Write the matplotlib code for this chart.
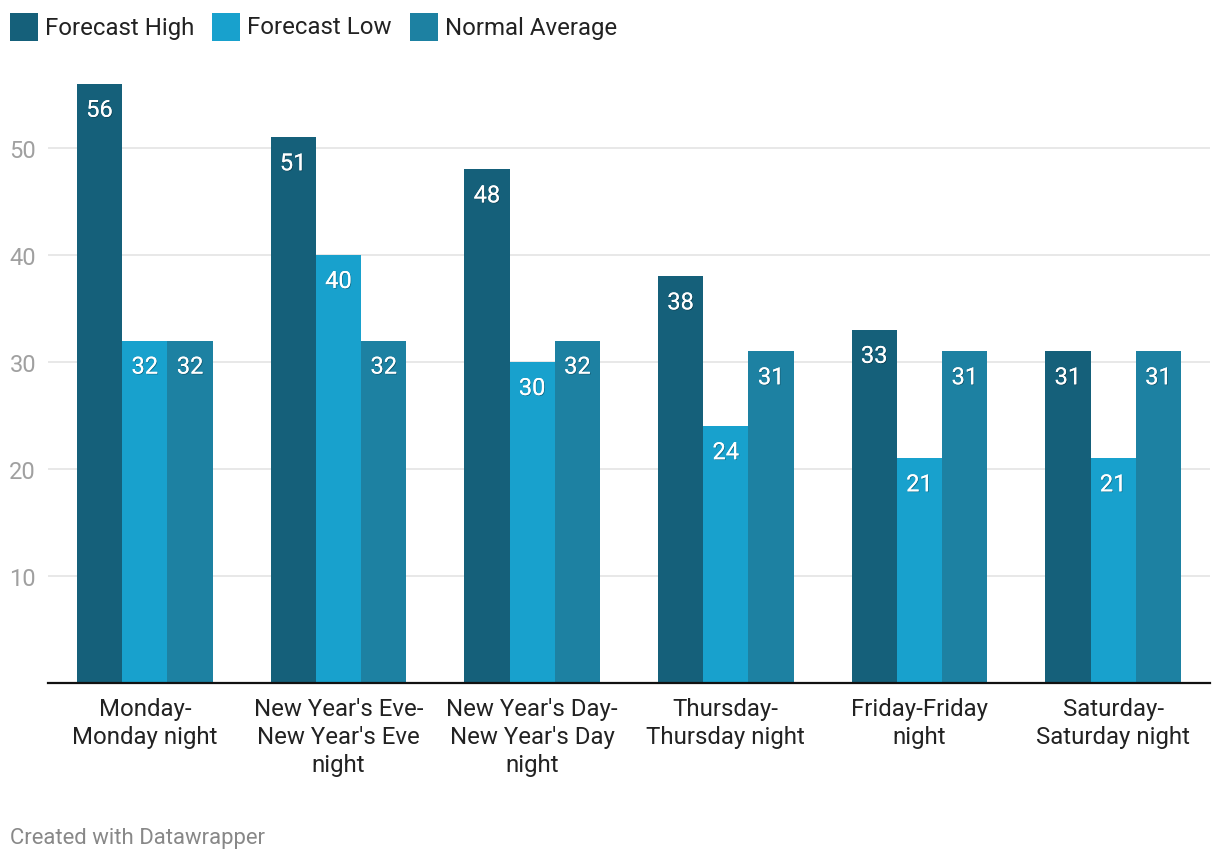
import matplotlib
matplotlib.use("Agg")
import matplotlib.pyplot as plt
import matplotlib.patches as mpatches
import matplotlib.patheffects as pe
from matplotlib.transforms import offset_copy
import numpy as np

categories = ["Monday-\nMonday night", "New Year's Eve-\nNew Year's Eve\nnight",
              "New Year's Day-\nNew Year's Day\nnight", "Thursday-\nThursday night",
              "Friday-Friday\nnight", "Saturday-\nSaturday night"]
series_names = ["Forecast High", "Forecast Low", "Normal Average"]
forecast_high = [56, 51, 48, 38, 33, 31]
forecast_low = [32, 40, 30, 24, 21, 21]
normal_average = [32, 32, 32, 31, 31, 31]
yticks = [10, 20, 30, 40, 50]
colors = ["#15607a", "#18a1cd", "#1d81a2"]

plt.rcParams['font.family'] = ['Roboto', 'DejaVu Sans']

W, H = 1220, 862
fig = plt.figure(figsize=(W / 100, H / 100), dpi=100)
ax_left, ax_right = 48, 1210
ax_bottom, ax_top = 684, 84.8
ax = fig.add_axes([ax_left / W, 1 - ax_bottom / H, (ax_right - ax_left) / W, (ax_bottom - ax_top) / H])

x = np.arange(len(categories))
bw = 0.234
series = [forecast_high, forecast_low, normal_average]
for i, (vals, c) in enumerate(zip(series, colors)):
    xs = x + (i - 1) * bw
    ax.bar(xs, vals, width=bw, color=c, zorder=3, linewidth=0)
    trans = offset_copy(ax.transData, fig=fig, x=0, y=-26.5, units='dots')
    for xi, v in zip(xs, vals):
        ax.text(xi, v, str(v), transform=trans, ha='center', va='center',
                color='white', fontsize=17, zorder=4,
                path_effects=[pe.withSimplePatchShadow(offset=(0.6, -0.6), shadow_rgbFace='black', alpha=0.3),
                              pe.Normal()])

ax.set_xlim(-0.5, len(categories) - 0.5)
ax.set_ylim(0, 56)
ax.set_yticks(yticks)
ax.set_yticklabels([str(t) for t in yticks])
ax.tick_params(axis='y', length=0, pad=8.6, labelsize=17, labelcolor='#a0a0a0')
ax.set_xticks(x)
ax.set_xticklabels(categories, fontsize=17.3, color='#222222', linespacing=1.265)
ax.tick_params(axis='x', length=0, pad=10.3)
ax.grid(axis='y', color='#e6e6e6', linewidth=1.3, zorder=0)
for s in ['top', 'right', 'left']:
    ax.spines[s].set_visible(False)
ax.spines['bottom'].set_color('#111111')
ax.spines['bottom'].set_linewidth(1.6)
ax.spines['bottom'].set_zorder(5)

# legend
legend_x = [10, 212, 410]
for lx, name, c in zip(legend_x, series_names, colors):
    fig.patches.append(mpatches.Rectangle((lx / W, 1 - 42 / H), 28 / W, 28 / H,
                                          transform=fig.transFigure, color=c, linewidth=0))
    fig.text((lx + 35) / W, 1 - 28 / H, name, ha='left', va='center', fontsize=17.3, color='#222222')

fig.text(10 / W, 1 - 839 / H, "Created with Datawrapper", ha='left', va='center',
         fontsize=15.9, color='#888888')

fig.savefig("out.png", dpi=100, facecolor='white')
